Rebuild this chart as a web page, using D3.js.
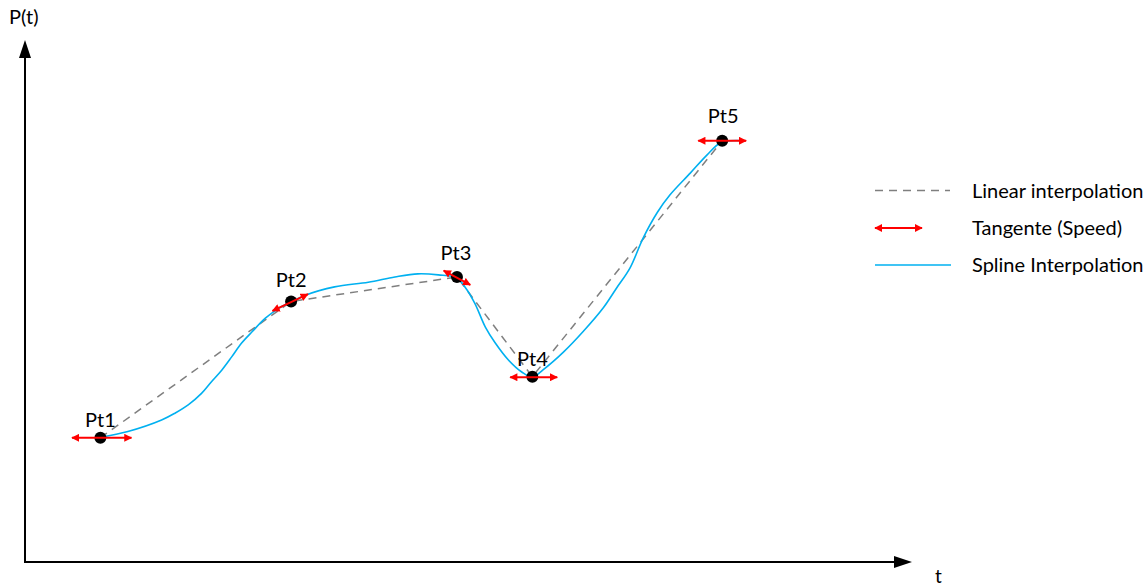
<!DOCTYPE html>
<html>
<head>
<meta charset="utf-8">
<script src="https://cdn.jsdelivr.net/npm/d3@7"></script>
<style>
  html, body { margin: 0; padding: 0; background: #fff; }
  svg { display: block; }
  text { font-family: Lato, "Open Sans", sans-serif; fill: #000; }
</style>
</head>
<body>
<script>
// ---- data ----
const pointNames = ["Pt1", "Pt2", "Pt3", "Pt4", "Pt5"];
const pointT = [0.85, 3.00, 4.87, 5.72, 7.86];
const pointP = [2.38, 4.99, 5.46, 3.55, 8.07];

// tangent (speed) vectors: start and end of each double arrow
const tangentT0 = [0.53, 2.79, 4.72, 5.47, 7.59];
const tangentP0 = [2.38, 4.81, 5.58, 3.54, 8.07];
const tangentT1 = [1.20, 3.19, 5.02, 6.00, 8.13];
const tangentP1 = [2.38, 5.13, 5.31, 3.54, 8.07];

// spline interpolation curve
const splineT = [0.85, 1.16, 1.54, 1.69, 1.84, 1.99, 2.10, 2.22, 2.33, 2.44, 2.56, 2.71, 2.86, 3.00,
                 3.16, 3.49, 3.87, 4.17, 4.43, 4.66, 4.87, 4.96, 5.07, 5.19, 5.30, 5.45, 5.60, 5.72,
                 5.84, 6.07, 6.29, 6.52, 6.67, 6.82, 6.97, 7.13, 7.27, 7.50, 7.69, 7.84, 7.95, 8.12];
const splineP = [2.39, 2.50, 2.72, 2.85, 3.01, 3.23, 3.45, 3.68, 3.93, 4.19, 4.41, 4.67, 4.86, 4.98,
                 5.11, 5.27, 5.36, 5.46, 5.52, 5.50, 5.44, 5.27, 4.96, 4.50, 4.20, 3.87, 3.64, 3.54,
                 3.68, 4.02, 4.41, 4.87, 5.25, 5.63, 6.21, 6.70, 7.03, 7.45, 7.80, 8.03, 8.07, 8.07];

const legendLabels = ["Linear interpolation", "Tangente (Speed)", "Spline Interpolation"];
const axisLabels = ["P(t)", "t"];

// ---- layout ----
const W = 1148, H = 587;
const FONT = 20;
const x = d3.scaleLinear().domain([0, 10]).range([25, 912]);
const y = d3.scaleLinear().domain([0, 10]).range([562, 40]);

const svg = d3.select("body").append("svg").attr("width", W).attr("height", H);

const defs = svg.append("defs");
defs.append("marker")
  .attr("id", "redArrow")
  .attr("viewBox", "0 0 10 10")
  .attr("refX", 9).attr("refY", 5)
  .attr("markerWidth", 4.2).attr("markerHeight", 4)
  .attr("orient", "auto-start-reverse")
  .append("path").attr("d", "M0,0 L10,5 L0,10 Z").attr("fill", "#ff0000");

// axes
const [x0, x1] = x.range();
const [y0, y1] = y.range();
const axisG = svg.append("g");
axisG.append("line").attr("x1", x0).attr("y1", y0).attr("x2", x0).attr("y2", y1 + 16)
  .attr("stroke", "#000").attr("stroke-width", 2);
axisG.append("line").attr("x1", x0 - 1).attr("y1", y0).attr("x2", x1 - 16).attr("y2", y0)
  .attr("stroke", "#000").attr("stroke-width", 2);
axisG.append("path").attr("d", `M${x0},${y1} L${x0 - 6},${y1 + 18} L${x0 + 6},${y1 + 18} Z`).attr("fill", "#000");
axisG.append("path").attr("d", `M${x1},${y0} L${x1 - 18},${y0 - 6} L${x1 - 18},${y0 + 6} Z`).attr("fill", "#000");
axisG.append("text").attr("x", 9).attr("y", 24).attr("font-size", FONT).text(axisLabels[0]);
axisG.append("text").attr("x", 935).attr("y", 583).attr("font-size", FONT - 1).text(axisLabels[1]);

// linear interpolation
const pts = pointT.map((t, i) => [t, pointP[i]]);
svg.append("path")
  .attr("d", d3.line().x(d => x(d[0])).y(d => y(d[1]))(pts))
  .attr("fill", "none").attr("stroke", "#7f7f7f").attr("stroke-width", 1.5)
  .attr("stroke-dasharray", "8,6");

// spline interpolation
const spl = splineT.map((t, i) => [t, splineP[i]]);
svg.append("path")
  .attr("d", d3.line().x(d => x(d[0])).y(d => y(d[1])).curve(d3.curveCatmullRom.alpha(0.5))(spl))
  .attr("fill", "none").attr("stroke", "#00b0f0").attr("stroke-width", 1.6);

// points
svg.append("g").selectAll("circle").data(pts).join("circle")
  .attr("cx", d => x(d[0])).attr("cy", d => y(d[1])).attr("r", 6).attr("fill", "#000");

// tangents
svg.append("g").selectAll("line").data(pointT).join("line")
  .attr("x1", (d, i) => x(tangentT0[i])).attr("y1", (d, i) => y(tangentP0[i]))
  .attr("x2", (d, i) => x(tangentT1[i])).attr("y2", (d, i) => y(tangentP1[i]))
  .attr("stroke", "#ff0000").attr("stroke-width", 2)
  .attr("marker-start", "url(#redArrow)").attr("marker-end", "url(#redArrow)");

// point labels
const labelDx = [0, 0, -1, 0, 1];
const labelDy = [-11, -15, -17, -11, -18];
svg.append("g").selectAll("text").data(pointNames).join("text")
  .attr("x", (d, i) => x(pointT[i]) + labelDx[i])
  .attr("y", (d, i) => y(pointP[i]) + labelDy[i])
  .attr("text-anchor", "middle").attr("font-size", FONT).text(d => d);

// legend
const lg = svg.append("g");
const rowY = [190.5, 228, 265];
lg.append("line").attr("x1", 875).attr("x2", 950).attr("y1", rowY[0]).attr("y2", rowY[0])
  .attr("stroke", "#7f7f7f").attr("stroke-width", 1.5).attr("stroke-dasharray", "8,6");
lg.append("line").attr("x1", 875).attr("x2", 922).attr("y1", rowY[1]).attr("y2", rowY[1])
  .attr("stroke", "#ff0000").attr("stroke-width", 2)
  .attr("marker-start", "url(#redArrow)").attr("marker-end", "url(#redArrow)");
lg.append("line").attr("x1", 875).attr("x2", 951).attr("y1", rowY[2]).attr("y2", rowY[2])
  .attr("stroke", "#00b0f0").attr("stroke-width", 1.6);
lg.selectAll("text").data(legendLabels).join("text")
  .attr("x", 972).attr("y", (d, i) => rowY[i] + 7)
  .attr("font-size", FONT).text(d => d);
</script>
</body>
</html>
